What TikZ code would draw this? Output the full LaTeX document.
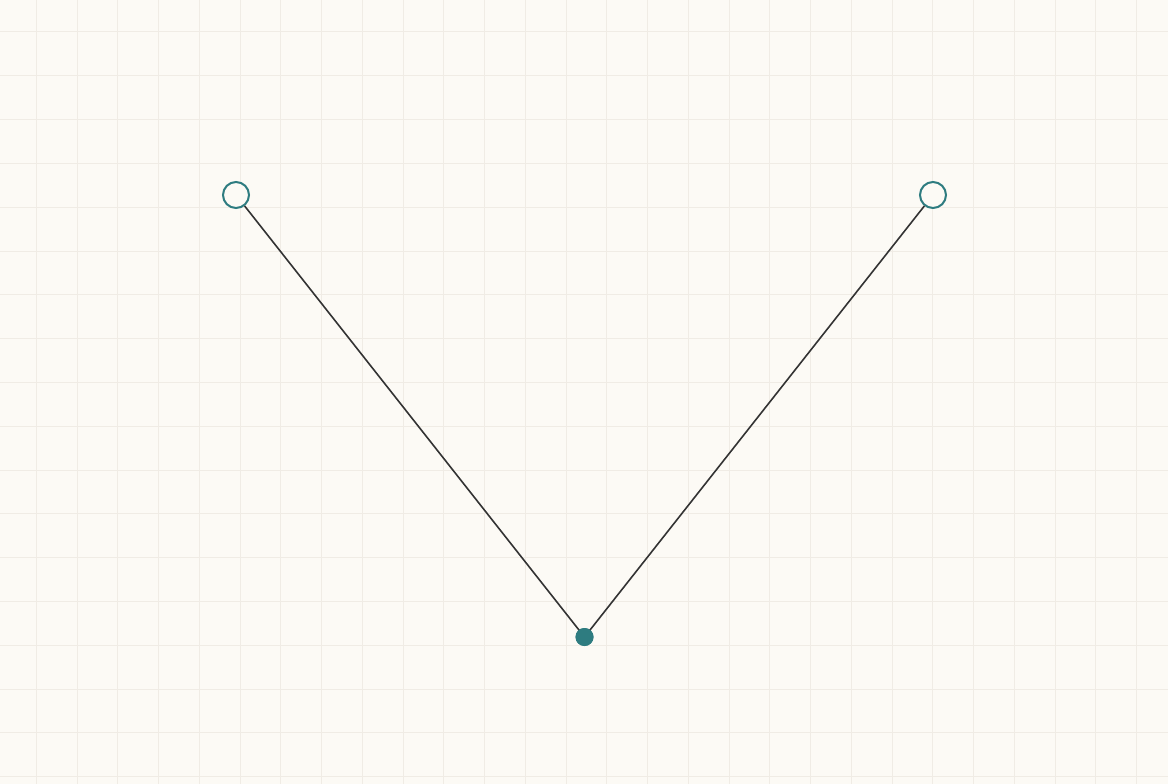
\documentclass[tikz,border=0pt]{standalone}
\usetikzlibrary{calc}
\definecolor{bg}{HTML}{FCFAF5}
\definecolor{gridc}{HTML}{F0ECE5}
\definecolor{teal}{HTML}{2E7C80}
\definecolor{ink}{HTML}{333333}
\begin{document}
\begin{tikzpicture}[x=1pt,y=-1pt,
  hollow/.style={circle,draw=teal,line width=2pt,fill=bg,minimum size=26pt,inner sep=0pt},
  solid/.style={circle,fill=teal,minimum size=18pt,inner sep=0pt},
  wire/.style={draw=ink,line width=1.6pt},
  gridline/.style={draw=gridc,line width=1pt}]
\fill[bg] (0,0) rectangle (1168,784);
\useasboundingbox (0,0) rectangle (1168,784);
\foreach \i in {0,...,27} {\draw[gridline] ({36.3+\i*40.75},0) -- ({36.3+\i*40.75},784);}
\foreach \j in {0,...,17} {\draw[gridline] (0,{32+\j*43.8}) -- (1168,{32+\j*43.8});}
\node[hollow] (a) at (236,195) {};
\node[hollow] (b) at (933,195) {};
\node[solid] (c) at (584.5,637) {};
\draw[wire] (a) -- (c.center);
\draw[wire] (b) -- (c.center);
\node[solid] at (c) {};
\end{tikzpicture}
\end{document}
